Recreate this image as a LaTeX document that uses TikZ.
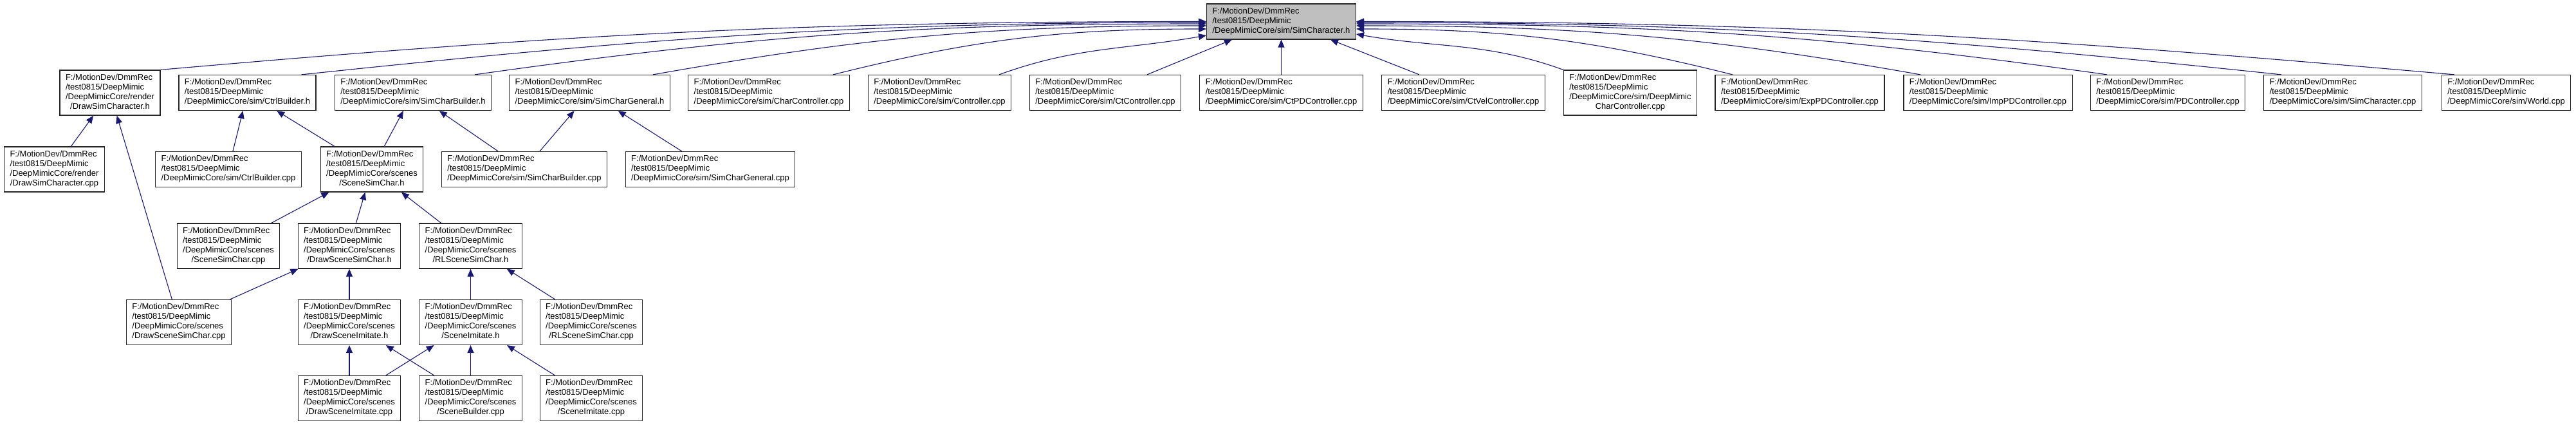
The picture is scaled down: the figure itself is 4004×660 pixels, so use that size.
\documentclass[tikz,border=0pt]{standalone}
\usepackage{fontspec}
\setmainfont{Liberation Sans}
\usepackage{xcolor}
\usepackage{tikz}
\usetikzlibrary{arrows.meta}

\definecolor{edgeblue}{HTML}{191970}
\definecolor{curgray}{HTML}{BFBFBF}

\newcommand{\fthree}[1]{\begin{tabular}{@{}l@{}}F:/MotionDev/DmmRec\\/test0815/DeepMimic\\#1\end{tabular}}
\newcommand{\ffour}[2]{\begin{tabular}{@{}l@{}}F:/MotionDev/DmmRec\\/test0815/DeepMimic\\#1\\\multicolumn{1}{@{}c@{}}{#2}\end{tabular}}

\begin{document}
\begin{tikzpicture}[x=1pt, y=1pt,
    file/.style={draw=black!85, line width=1.2pt, fill=white, inner xsep=9pt, inner ysep=5pt, font=\fontsize{13}{15}\selectfont},
    inc/.style={draw=edgeblue, line width=1.1pt, -{Triangle[length=12pt,width=10pt]}}]
  \fill[white] (0,0) rectangle (4004,660);

  % included header
  \node[file, fill=curgray] (top) at (1991.5,626.5) {\fthree{/DeepMimicCore/sim/SimCharacter.h}};

  % first row
  \node[file] (dsch) at (171,516) {\ffour{/DeepMimicCore/render}{/DrawSimCharacter.h}};
  \node[file] (cbh) at (384.5,516) {\fthree{/DeepMimicCore/sim/CtrlBuilder.h}};
  \node[file] (scbh) at (642,516) {\fthree{/DeepMimicCore/sim/SimCharBuilder.h}};
  \node[file] (scgh) at (916.5,516) {\fthree{/DeepMimicCore/sim/SimCharGeneral.h}};
  \node[file] (ccc) at (1195,516) {\fthree{/DeepMimicCore/sim/CharController.cpp}};
  \node[file] (conc) at (1460.5,516) {\fthree{/DeepMimicCore/sim/Controller.cpp}};
  \node[file] (ctc) at (1718,516) {\fthree{/DeepMimicCore/sim/CtController.cpp}};
  \node[file] (ctpdc) at (1991.5,516) {\fthree{/DeepMimicCore/sim/CtPDController.cpp}};
  \node[file] (ctvc) at (2274.5,516) {\fthree{/DeepMimicCore/sim/CtVelController.cpp}};
  \node[file] (dmcc) at (2534,516) {\ffour{/DeepMimicCore/sim/DeepMimic}{CharController.cpp}};
  \node[file] (epdc) at (2797.5,516) {\fthree{/DeepMimicCore/sim/ExpPDController.cpp}};
  \node[file] (ipdc) at (3090,516) {\fthree{/DeepMimicCore/sim/ImpPDController.cpp}};
  \node[file] (pdc) at (3369.5,516) {\fthree{/DeepMimicCore/sim/PDController.cpp}};
  \node[file] (simcc) at (3641.5,516) {\fthree{/DeepMimicCore/sim/SimCharacter.cpp}};
  \node[file] (worldc) at (3895.5,516) {\fthree{/DeepMimicCore/sim/World.cpp}};

  % second row
  \node[file] (dscc) at (84.5,397) {\ffour{/DeepMimicCore/render}{/DrawSimCharacter.cpp}};
  \node[file] (cbc) at (355,397) {\fthree{/DeepMimicCore/sim/CtrlBuilder.cpp}};
  \node[file] (sschh) at (578,397) {\ffour{/DeepMimicCore/scenes}{/SceneSimChar.h}};
  \node[file] (scbc) at (815,397) {\fthree{/DeepMimicCore/sim/SimCharBuilder.cpp}};
  \node[file] (scgc) at (1104,397) {\fthree{/DeepMimicCore/sim/SimCharGeneral.cpp}};

  % scenes
  \node[file] (sscc) at (355,278) {\ffour{/DeepMimicCore/scenes}{/SceneSimChar.cpp}};
  \node[file] (dssh) at (543,278) {\ffour{/DeepMimicCore/scenes}{/DrawSceneSimChar.h}};
  \node[file] (rlssh) at (731.5,278) {\ffour{/DeepMimicCore/scenes}{/RLSceneSimChar.h}};
  \node[file] (dssc) at (278,159.5) {\ffour{/DeepMimicCore/scenes}{/DrawSceneSimChar.cpp}};
  \node[file] (dsih) at (543,159.5) {\ffour{/DeepMimicCore/scenes}{/DrawSceneImitate.h}};
  \node[file] (sih) at (731.5,159.5) {\ffour{/DeepMimicCore/scenes}{/SceneImitate.h}};
  \node[file] (rlssc) at (919,159.5) {\ffour{/DeepMimicCore/scenes}{/RLSceneSimChar.cpp}};
  \node[file] (dsic) at (543,41.5) {\ffour{/DeepMimicCore/scenes}{/DrawSceneImitate.cpp}};
  \node[file] (sbc) at (731.5,41.5) {\ffour{/DeepMimicCore/scenes}{/SceneBuilder.cpp}};
  \node[file] (sic) at (919,41.5) {\ffour{/DeepMimicCore/scenes}{/SceneImitate.cpp}};

  % edges into SimCharacter.h
  \draw[inc] (dsch.north east) .. controls +(5:634) and +(180:634) .. (top.west);
  \draw[inc] ([xshift=84pt]cbh.north) .. controls +(6:548) and +(180:548) .. ([yshift=-1.5pt]top.west);
  \draw[inc] ([xshift=96pt]scbh.north) .. controls +(8:444) and +(180:444) .. ([yshift=-3.5pt]top.west);
  \draw[inc] ([xshift=98.5pt]scgh.north) .. controls +(10:336) and +(180:336) .. ([yshift=-6.5pt]top.west);
  \draw[inc] ([xshift=100pt]ccc.north) .. controls +(14:227) and +(180:227) .. ([yshift=-11.5pt]top.west);
  \draw[inc] ([xshift=92.5pt]conc.north) .. controls +(20:127) and +(190:127) .. ([yshift=-21.5pt]top.west);
  \draw[inc] ([xshift=65pt]ctc.north) -- ([xshift=-76.5pt]top.south);
  \draw[inc] (ctpdc) -- (top);
  \draw[inc] ([xshift=-68.5pt]ctvc.north) -- ([xshift=76.5pt]top.south);
  \draw[inc] (dmcc.north west) .. controls +(160:126) and +(-10:126) .. ([yshift=-19.5pt]top.east);
  \draw[inc] ([xshift=-104.5pt]epdc.north) .. controls +(166:229) and +(0:229) .. ([yshift=-11.5pt]top.east);
  \draw[inc] ([xshift=-105pt]ipdc.north) .. controls +(170:342) and +(0:342) .. ([yshift=-6.5pt]top.east);
  \draw[inc] ([xshift=-94.5pt]pdc.north) .. controls +(172:455) and +(0:455) .. ([yshift=-3.5pt]top.east);
  \draw[inc] ([xshift=-95.5pt]simcc.north) .. controls +(174:561) and +(0:561) .. ([yshift=-1.5pt]top.east);
  \draw[inc] ([xshift=-80.5pt]worldc.north) .. controls +(175:666) and +(0:666) .. (top.east);

  % remaining includes
  \draw[inc] (dscc) -- (dsch);
  \draw[inc] (dssc) -- (dsch);
  \draw[inc] (cbc) -- (cbh);
  \draw[inc] (sschh) -- (cbh);
  \draw[inc] (sschh) -- (scbh);
  \draw[inc] (scbc) -- (scbh);
  \draw[inc] (scbc) -- (scgh);
  \draw[inc] (scgc) -- (scgh);
  \draw[inc] (sscc) -- (sschh);
  \draw[inc] (dssh) -- (sschh);
  \draw[inc] (rlssh) -- (sschh);
  \draw[inc] (dssc) -- (dssh);
  \draw[inc] (dsih) -- (dssh);
  \draw[inc] (sih) -- (rlssh);
  \draw[inc] (rlssc) -- (rlssh);
  \draw[inc] (dsic) -- (dsih);
  \draw[inc] (sbc) -- (dsih);
  \draw[inc] (dsic) -- (sih);
  \draw[inc] (sbc) -- (sih);
  \draw[inc] (sic) -- (sih);
\end{tikzpicture}
\end{document}
